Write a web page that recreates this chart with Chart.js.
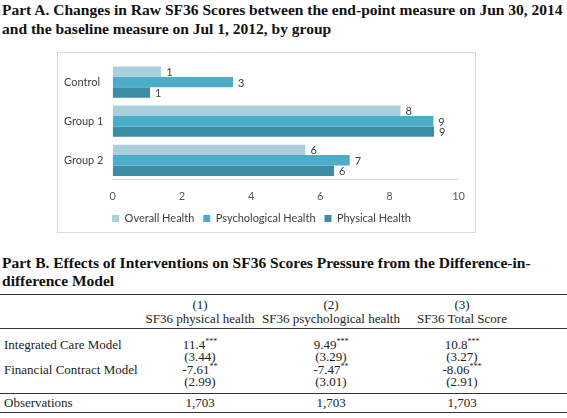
<html>
<head>
    <title>SF36 Scores</title>
    <script src="https://cdn.jsdelivr.net/npm/chart.js"></script>
    <style>
        body { margin: 0; background: #fff; width: 567px; height: 418px; position: relative; overflow: hidden; }
        .heading { position: absolute; left: 2px; font-family: "Liberation Serif", serif; font-weight: bold; font-size: 15px; color: #111; white-space: nowrap; }
        #chartBox { position: absolute; left: 57px; top: 52px; width: 417px; height: 179px; border: 1px solid #d9d9d9; }
        #barChart { position: absolute; left: 0; top: 0; }
        #results { position: absolute; left: 0; top: 294px; width: 567px; border-collapse: collapse; font-family: "Liberation Serif", serif; font-size: 13px; color: #222; table-layout: fixed; }
        #results td { padding: 0; line-height: 12.5px; height: 12.5px; text-align: center; white-space: nowrap; }
        #results td.lbl { text-align: left; padding-left: 4px; }
        #results tr.head td { border-top: 1.5px solid #333; border-bottom: 1px solid #333; height: 34px; line-height: 14px; }
        #results tr.obs td { border-top: 1px solid #333; border-bottom: 1px solid #333; height: 19px; }
        #results sup { font-size: 8px; line-height: 0; }
    </style>
</head>
<body>
    <div class="heading" style="top:0px; line-height:19px"><span id="titleLine">Part A. Changes in Raw SF36 Scores between the end-point measure on Jun 30, 2014</span><br>and the baseline measure on Jul 1, 2012, by group</div>

    <div id="chartBox"><canvas id="barChart" width="417" height="181"></canvas></div>

    <div class="heading" style="top:254px; line-height:18px">Part B. Effects of Interventions on SF36 Scores Pressure from the Difference-in-<br>difference Model</div>

    <table id="results">
        <colgroup><col style="width:138px"><col style="width:124px"><col style="width:138px"><col style="width:124px"><col></colgroup>
        <tbody id="resultsBody"></tbody>
    </table>

    <script>
        // Part A values
        const groups = ['Control', 'Group 1', 'Group 2'];
        const overallHealth = [1.4, 8.32, 5.57];
        const psychologicalHealth = [3.48, 9.27, 6.85];
        const physicalHealth = [1.08, 9.29, 6.4];
        const seriesNames = ['Overall Health', 'Psychological Health', 'Physical Health'];
        const seriesColors = ['#a9cfdc', '#4badc9', '#3b8ea3'];
        const xMax = 10;
        const xStep = 2;

        // Part B regression table
        const columnNumbers = ['(1)', '(2)', '(3)'];
        const columnHeads = ['SF36 physical health', 'SF36 psychological health', 'SF36 Total Score'];
        const integratedCoef = ['11.4***', '9.49***', '10.8***'];
        const integratedSE = ['(3.44)', '(3.29)', '(3.27)'];
        const financialCoef = ['-7.61**', '-7.47**', '-8.06***'];
        const financialSE = ['(2.99)', '(3.01)', '(2.91)'];
        const observations = ['1,703', '1,703', '1,703'];

        // headings: size the serif font so the first line spans the page like the original
        const lineWidth = document.getElementById('titleLine').getBoundingClientRect().width;
        const headingSize = 15 * 561 / lineWidth;
        document.querySelectorAll('.heading').forEach(h => h.style.fontSize = headingSize + 'px');

        const valueLabels = {
            id: 'valueLabels',
            afterDatasetsDraw(chart) {
                const ctx = chart.ctx;
                ctx.save();
                ctx.font = '11px Lato';
                ctx.fillStyle = '#404040';
                ctx.textBaseline = 'middle';
                chart.data.datasets.forEach((ds, i) => {
                    chart.getDatasetMeta(i).data.forEach((bar, j) => {
                        ctx.fillText(Math.round(ds.data[j]), bar.x + 5, bar.y + 1);
                    });
                });
                ctx.restore();
            }
        };

        new Chart(document.getElementById('barChart'), {
            type: 'bar',
            data: {
                labels: groups,
                datasets: [overallHealth, psychologicalHealth, physicalHealth].map((vals, i) => ({
                    label: seriesNames[i],
                    data: vals,
                    backgroundColor: seriesColors[i],
                    categoryPercentage: 0.8,
                    barPercentage: 1.0
                }))
            },
            options: {
                indexAxis: 'y',
                responsive: false,
                animation: false,
                layout: { padding: { left: 6, right: 16, top: 8, bottom: 0 } },
                plugins: {
                    tooltip: { enabled: false },
                    legend: {
                        position: 'bottom',
                        labels: { boxWidth: 7, boxHeight: 7, padding: 9, color: '#404040', font: { family: 'Lato', size: 11 } }
                    }
                },
                scales: {
                    x: {
                        min: 0, max: xMax,
                        ticks: { stepSize: xStep, padding: 10, color: '#595959', font: { family: 'Lato', size: 11 } },
                        grid: { display: false, drawTicks: false },
                        border: { color: '#d9d9d9', width: 1 },
                        afterFit(scale) { scale.height = 24.2; }
                    },
                    y: {
                        ticks: { crossAlign: 'far', color: '#404040', font: { family: 'Lato', size: 11 } },
                        grid: { display: false },
                        border: { display: false },
                        afterFit(scale) { scale.width = 48.7; }
                    }
                }
            },
            plugins: [valueLabels]
        });

        function withStars(text) {
            return text.replace(/(\*+)/, '<sup>$1</sup>');
        }

        function row(label, cells, cls) {
            let html = `<tr${cls ? ` class="${cls}"` : ''}><td class="lbl">${label}</td>`;
            cells.forEach(c => html += `<td>${withStars(c)}</td>`);
            return html + '<td></td></tr>';
        }

        const body = document.getElementById('resultsBody');
        let rows = row('', columnNumbers.map((n, i) => `${n}<br>${columnHeads[i]}`), 'head');
        rows += '<tr><td colspan="5" style="height:10px"></td></tr>';
        rows += row('Integrated Care Model', integratedCoef);
        rows += row('', integratedSE);
        rows += row('Financial Contract Model', financialCoef);
        rows += row('', financialSE);
        rows += '<tr><td colspan="5" style="height:5px"></td></tr>';
        rows += row('Observations', observations, 'obs');
        body.innerHTML = rows;
    </script>
</body>
</html>
